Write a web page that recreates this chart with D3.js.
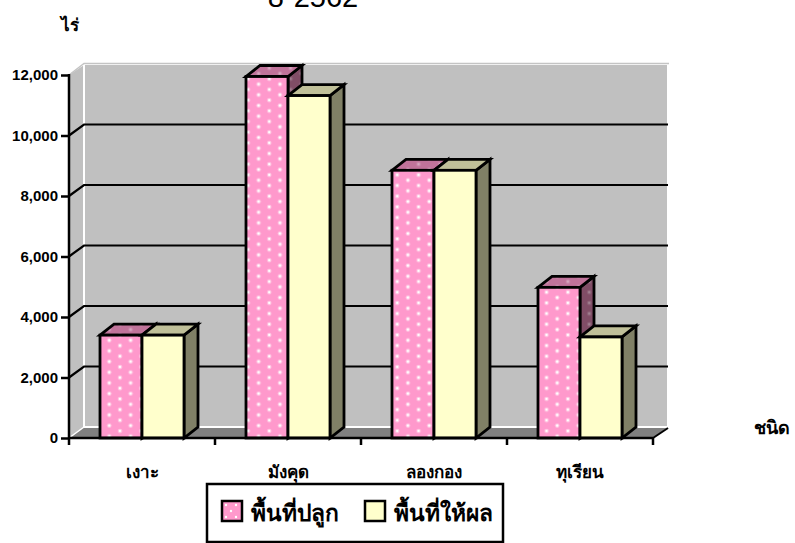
<!DOCTYPE html>
<html><head><meta charset="utf-8">
<script src="https://cdn.jsdelivr.net/npm/d3@7"></script>
<style>html,body{margin:0;background:#fff}svg{display:block}text{font-family:"Liberation Sans",Arial,sans-serif}</style>
</head><body><svg id="c" width="795" height="543"></svg>
<script>
const categories=["เงาะ","มังคุด","ลองกอง","ทุเรียน"];
const seriesNames=["พื้นที่ปลูก","พื้นที่ให้ผล"];
const planted=[3400,11950,8850,4980];
const bearing=[3400,11320,8850,3340];
const yTicks=[0,2000,4000,6000,8000,10000,12000];
const titleText="8-2562", yTitle="ไร่", xTitle="ชนิด";

const svg=d3.select("#c");
const x=d3.scaleBand().domain(categories).range([69,653]);
const y=d3.scaleLinear().domain([0,12000]).range([438,75]);
const sub=d3.scaleBand().domain([0,1]).range([0,84]);
const dx=15,dy=-11,bdx=14;
const line=d3.line();
const ink="#000";

const defs=svg.append("defs");
function dotPattern(id,bg,dot,halo){
  const p=defs.append("pattern").attr("id",id).attr("patternUnits","userSpaceOnUse")
    .attr("x",106.3).attr("y",337.8).attr("width",21.33).attr("height",10.67);
  p.append("rect").attr("width",21.33).attr("height",10.67).attr("fill",bg);
  [[3,2.5],[13.67,7.83]].forEach(c=>{
    p.append("circle").attr("cx",c[0]).attr("cy",c[1]).attr("r",2.3).attr("fill",dot).attr("opacity",halo);
    p.append("circle").attr("cx",c[0]).attr("cy",c[1]).attr("r",1.2).attr("fill",dot);
  });
}
dotPattern("dots","#ff99cc","#ffffff",.4);
dotPattern("dotsTop","#c0739a","#d6a8c0",.4);
dotPattern("dotsSide","#804d66","#a08090",.4);

const y0=y(0),yT=y(12000),xL=x.range()[0],xR=x.range()[1];
// walls
svg.append("path").attr("d",line([[xL,yT],[xL+dx,yT+dy+1],[xR+dx,yT+dy+1],[xR+dx,y0+dy],[xL+dx,y0+dy],[xL,y0]])+"Z").attr("fill","#c0c0c0");
svg.append("path").attr("d",line([[xL,y0],[xL+dx,y0+dy],[xR+dx,y0+dy],[xR,y0]])+"Z").attr("fill","#808080");
svg.append("path").attr("d",line([[xL,yT],[xL+dx,yT+dy-.5],[xR+dx+1,yT+dy-.5]])).attr("fill","none").attr("stroke","#c4c4c4").attr("stroke-width",1.5);
svg.append("path").attr("d",line([[xL+dx,yT+dy+1],[xL+dx,y0+dy],[xR+dx,y0+dy],[xR+dx,yT+dy+1]])).attr("fill","none").attr("stroke","#fff").attr("stroke-width",2);
svg.append("path").attr("d",line([[xL,y0],[xL+dx,y0+dy]])).attr("stroke","#fff").attr("stroke-width",1.5);
svg.append("path").attr("d",line([[xR,y0],[xR+dx,y0+dy+1]])).attr("stroke","#000").attr("stroke-width",2);
// gridlines
yTicks.filter(v=>v>0&&v<12000).forEach(v=>{
  svg.append("path").attr("d",line([[xL,y(v)],[xL+dx,y(v)+dy],[xR+dx,y(v)+dy]])).attr("fill","none").attr("stroke",ink).attr("stroke-width",2.2);
});
// bars
function bar(bx,w,v,front,top,side){
  const t=y(v),g=svg.append("g").attr("stroke",ink).attr("stroke-width",2.8).attr("stroke-linejoin","miter");
  g.append("path").attr("d",line([[bx+w,t],[bx+w+bdx,t+dy],[bx+w+bdx,y0+dy],[bx+w,y0]])+"Z").attr("fill",side);
  g.append("path").attr("d",line([[bx,t],[bx+bdx,t+dy],[bx+w+bdx,t+dy],[bx+w,t]])+"Z").attr("fill",top);
  g.append("rect").attr("x",bx).attr("y",t).attr("width",w).attr("height",y0-t).attr("fill",front);
}
categories.forEach((c,i)=>{
  const gx=x(c)+(x.bandwidth()-sub.range()[1])/2;
  bar(gx+sub(0),sub.bandwidth(),planted[i],"url(#dots)","url(#dotsTop)","url(#dotsSide)");
  bar(gx+sub(1),sub.bandwidth(),bearing[i],"#ffffcc","#c0c099","#808066");
});
// axes
const ax=svg.append("g").attr("transform",`translate(${xL},0)`).call(d3.axisLeft(y).tickValues(yTicks).tickSize(8).tickPadding(3).tickFormat(d3.format(",")));
ax.selectAll("path,line").attr("stroke",ink).attr("stroke-width",2.5);
ax.select(".domain").attr("d",`M0,${yT-1}V${y0}`);
ax.selectAll("text").attr("font-size",15).attr("font-weight","bold").attr("fill",ink);
const bx=svg.append("g").attr("transform",`translate(0,${y0})`).call(d3.axisBottom(x).tickSize(0).tickPadding(28));
bx.select(".domain").attr("d",`M${xL},0H${xR}`).attr("stroke",ink).attr("stroke-width",2.5);
bx.selectAll("text").attr("font-size",17).attr("font-weight","bold").attr("fill",ink);
x.domain().concat("end").forEach((c,i)=>{
  const p=xL+i*x.step();
  svg.append("line").attr("x1",p).attr("x2",p).attr("y1",y0).attr("y2",y0+7).attr("stroke",ink).attr("stroke-width",2.5);
});
// titles
svg.append("text").attr("x",313).attr("y",7).attr("text-anchor","middle").attr("font-size",29).text(titleText);
svg.append("text").attr("x",70).attr("y",31).attr("text-anchor","middle").attr("font-size",17).attr("font-weight","bold").text(yTitle);
svg.append("text").attr("x",772).attr("y",434).attr("text-anchor","middle").attr("font-size",18).attr("font-weight","bold").text(xTitle);
// legend
svg.append("rect").attr("x",207).attr("y",484).attr("width",296).attr("height",58).attr("fill","#fff").attr("stroke",ink).attr("stroke-width",2.5);
[[222,"#ff99cc",251],[365,"#ffffcc",394]].forEach((d,i)=>{
  svg.append("rect").attr("x",d[0]).attr("y",501).attr("width",20).attr("height",20).attr("fill",d[1]).attr("stroke",ink).attr("stroke-width",2.5);
  svg.append("text").attr("x",d[2]).attr("y",521).attr("font-size",22.8).attr("font-weight","bold").attr("fill",ink).text(seriesNames[i]);
});
// swatch dots
[[226,505],[236,505],[231,511],[226,517],[236,517]].forEach(p=>svg.append("circle").attr("cx",p[0]).attr("cy",p[1]).attr("r",1.2).attr("fill","#fff"));
</script></body></html>
